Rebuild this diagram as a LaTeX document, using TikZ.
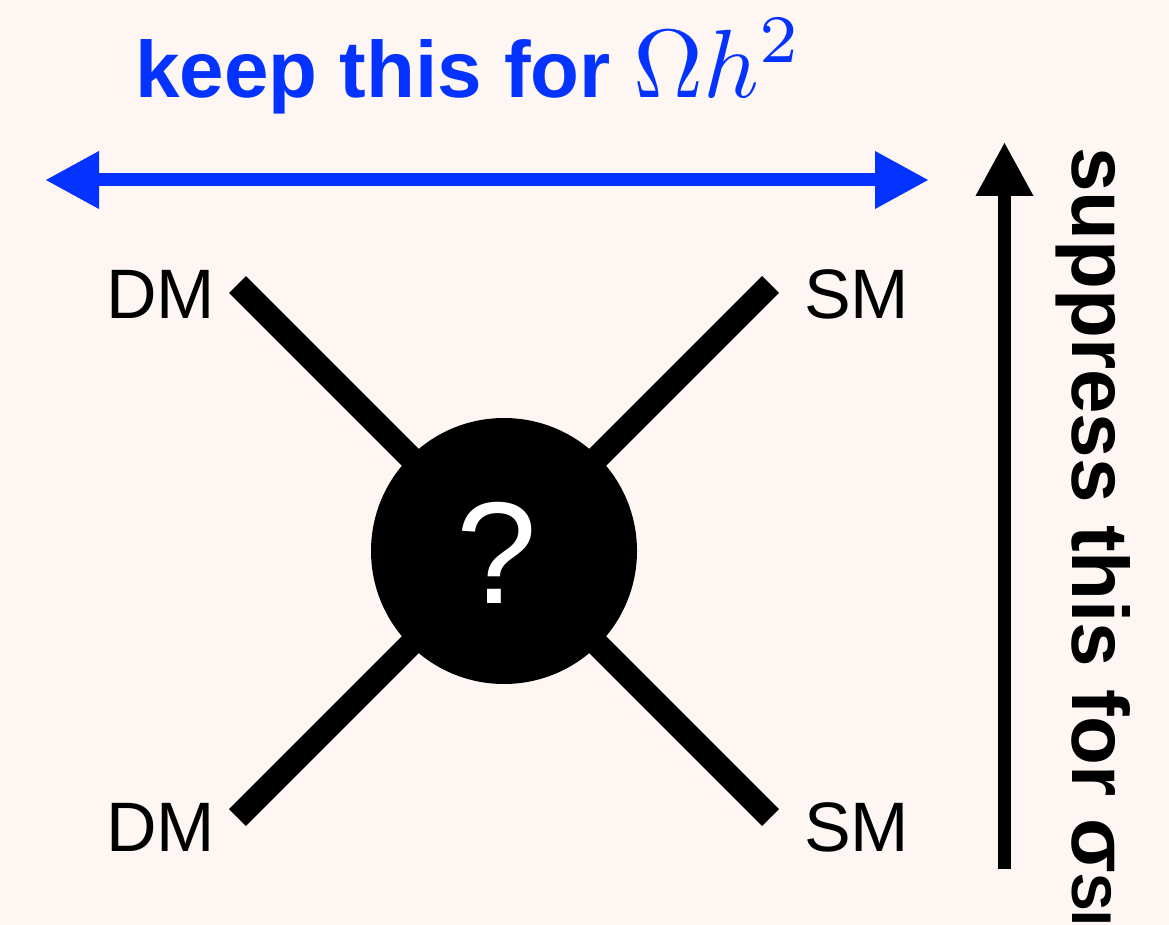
\documentclass[tikz,border=0pt]{standalone}
\usepackage{graphicx}
\usepackage[no-math]{fontspec}
\setmainfont{Liberation Sans}
\usetikzlibrary{arrows.meta}
\definecolor{bgpink}{RGB}{253,246,243}
\definecolor{keyblue}{RGB}{4,51,255}
\tikzset{
  leg/.style={line width=24pt, line cap=butt, black},
  lbl/.style={anchor=base west, inner sep=0pt, font=\fontsize{70}{70}\selectfont},
  bigarrow/.style={line width=13pt, -{Triangle[length=54pt,width=54pt]}},
}
\begin{document}
\begin{tikzpicture}[x=1pt,y=-1pt]
\clip (0,0) rectangle (1169,925);
\fill[bgpink] (0,0) rectangle (1169,925);
% legs
\coordinate (ctr) at (504,551);
\coordinate (tl) at (237.5,284.5);
\coordinate (bl) at (237.5,817.5);
\coordinate (tr) at (770.5,284.5);
\coordinate (br) at (770.5,817.5);
\draw[leg] (tl) -- (ctr);
\draw[leg] (bl) -- (ctr);
\draw[leg] (tr) -- (ctr);
\draw[leg] (br) -- (ctr);
\node[circle, fill=black, minimum size=266pt, inner sep=0pt] (blob) at (ctr) {};
\node[text=white, inner sep=0pt, anchor=base, font=\fontsize{145}{145}\selectfont] (q) at (497,603) {?};
% labels
\node[lbl] (dm1) at (106,318) {DM};
\node[lbl] (dm2) at (106,851) {DM};
\node[lbl] (sm1) at (804,318) {SM};
\node[lbl] (sm2) at (804,851) {SM};
% blue double arrow
\coordinate (bla) at (45,180);
\coordinate (blb) at (929,180);
\draw[keyblue, line width=13pt, {Triangle[length=54pt,width=54pt]}-{Triangle[length=54pt,width=54pt]}] (bla) -- (blb);
\node[anchor=base west, inner sep=0pt, text=keyblue, font=\fontsize{80}{96}\selectfont\bfseries] (title) at (135,98)
  {keep this for \scalebox{9.7}{\fontsize{10}{12}\selectfont$\Omega h^2$}};
% black vertical arrow
\coordinate (va) at (1004.5,869);
\coordinate (vb) at (1004.5,142);
\draw[bigarrow, black] (va) -- (vb);
\node[anchor=base west, inner sep=0pt, rotate=-90, font=\fontsize{80}{96}\selectfont\bfseries] (side) at (1072,147)
  {suppress this for σ{\fontsize{56}{56}\selectfont SI}};
\end{tikzpicture}
\end{document}
